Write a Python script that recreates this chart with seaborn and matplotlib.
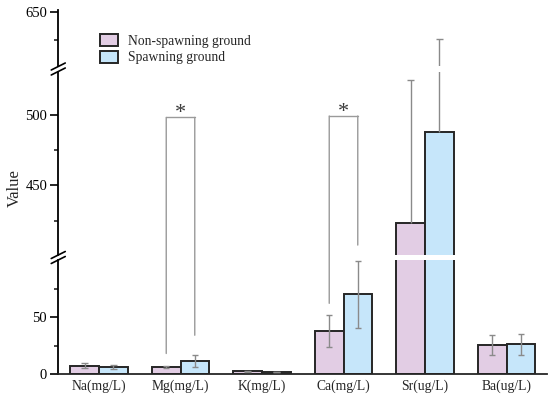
import matplotlib
matplotlib.use("Agg")
import matplotlib.pyplot as plt
from matplotlib.patches import ConnectionPatch
from matplotlib.lines import Line2D
import pandas as pd
import seaborn as sns

# ---- data ----
elements = ["Na(mg/L)", "Mg(mg/L)", "K(mg/L)", "Ca(mg/L)", "Sr(ug/L)", "Ba(ug/L)"]
groups = ["Non-spawning ground", "Spawning ground"]
non_spawning = [7.3, 6.0, 2.3, 38.0, 423.5, 25.5]
spawning = [6.2, 11.5, 1.8, 70.0, 488.0, 26.0]
# SD arms as drawn (Sr only shows the upper arm)
non_spawning_sd_low = [2.0, 0.6, 0.4, 14.0, 0.0, 9.0]
non_spawning_sd_high = [2.0, 0.6, 0.4, 14.0, 101.0, 9.0]
spawning_sd_low = [1.5, 5.5, 0.3, 29.5, 0.0, 9.5]
spawning_sd_high = [1.5, 5.5, 0.3, 29.5, 143.0, 9.5]

# significance brackets: element index, bracket height, leg ends (left / right)
sig_index = [1, 3]
sig_top = [498, 499]
sig_left_end = [18, 62]
sig_right_end = [34, 408]

PINK = "#E2CDE4"
BLUE = "#C6E6FA"
EDGE = "#262626"
ERR_COLOR = "#8a8a8a"
CAP = 0.04

df = pd.DataFrame({
    "element": elements * 2,
    "group": [groups[0]] * len(elements) + [groups[1]] * len(elements),
    "value": non_spawning + spawning,
})

sns.set_theme(style="ticks")
plt.rcParams["font.family"] = ["Liberation Serif", "DejaVu Serif"]
plt.rcParams["axes.linewidth"] = 1.3

W, H = 550, 397
fig = plt.figure(figsize=(W / 100, H / 100), dpi=100)

def px_axes(top_px, bottom_px):
    left, right = 58.25, 547.25
    return fig.add_axes([left / W, (H - bottom_px) / H,
                         (right - left) / W, (bottom_px - top_px) / H])

ax_top = px_axes(10, 66)
ax_mid = px_axes(72, 255)
ax_bot = px_axes(260, 374)
axes = [ax_top, ax_mid, ax_bot]
limits = [(612, 651.5), (401, 530), (0, 100)]
major = [[650], [450, 500], [0, 50]]
minor = [[630], [425, 475], [25, 75]]

for ax, lim, mj, mn in zip(axes, limits, major, minor):
    sns.barplot(data=df, x="element", y="value", hue="group",
                hue_order=groups, palette=[PINK, BLUE], width=0.7,
                edgecolor=EDGE, linewidth=1.4, errorbar=None,
                saturation=1, legend=(ax is ax_bot), ax=ax)
    ax.set_ylim(*lim)
    ax.set_xlim(-0.5, len(elements) - 0.5)
    ax.set_yticks(mj)
    ax.set_yticks(mn, minor=True)
    ax.set_xlabel("")
    ax.set_ylabel("")
    ax.tick_params(axis="y", which="major", length=6, width=1.2,
                   labelsize=10.5, pad=2, colors="black")
    ax.tick_params(axis="y", which="minor", length=3, width=1.2)
    for s in ["top", "right"]:
        ax.spines[s].set_visible(False)
    ax.spines["left"].set_color("black")
    ax.set_facecolor("none")
    if ax is not ax_bot:
        ax.spines["bottom"].set_visible(False)
        ax.tick_params(axis="x", bottom=False, labelbottom=False)

ax_bot.tick_params(axis="x", length=0, labelsize=9.8, pad=4)

# error bars
patches = ax_bot.patches
n = len(elements)
x_non = [p.get_x() + p.get_width() / 2 for p in patches[:n]]
x_spa = [p.get_x() + p.get_width() / 2 for p in patches[n:2 * n]]

def draw_sd(ax, xs, means, lows, highs):
    for x, m, lo, hi in zip(xs, means, lows, highs):
        ax.vlines(x, m - lo, m + hi, color=ERR_COLOR, lw=1, zorder=3)
        for end, arm in ((m - lo, lo), (m + hi, hi)):
            if arm > 0:
                ax.hlines(end, x - CAP, x + CAP, color=ERR_COLOR, lw=1, zorder=3)

for ax in axes:
    draw_sd(ax, x_non, non_spawning, non_spawning_sd_low, non_spawning_sd_high)
    draw_sd(ax, x_spa, spawning, spawning_sd_low, spawning_sd_high)

# significance brackets
def seg_axis(v):
    return ax_mid if v > 300 else ax_bot

BR_COLOR = "#9a9a9a"
for i, top, le, re in zip(sig_index, sig_top, sig_left_end, sig_right_end):
    xl, xr = x_non[i], x_spa[i]
    ax_mid.plot([xl, xr], [top, top], color=BR_COLOR, lw=1, zorder=4)
    for x, end in ((xl, le), (xr, re)):
        con = ConnectionPatch(xyA=(x, top), coordsA=ax_mid.transData,
                              xyB=(x, end), coordsB=seg_axis(end).transData,
                              color=BR_COLOR, lw=1, zorder=4)
        fig.add_artist(con)
    ax_mid.text((xl + xr) / 2, top - 4, "*", ha="center", va="bottom",
                fontsize=16, color="#3a3a3a")

# axis break marks on the y axis
for yc in (69, 257.5):
    for dy in (-2.5, 2.5):
        y = yc + dy
        fig.add_artist(Line2D([(58.25 - 7) / W, (58.25 + 7) / W],
                              [(H - (y + 3.5)) / H, (H - (y - 3.5)) / H],
                              color="black", lw=1.2))

# legend
handles, labels = ax_bot.get_legend_handles_labels()
ax_bot.get_legend().remove()
fig.legend(handles, labels, loc="upper left", bbox_to_anchor=(100 / W, 1 - 34 / H),
           frameon=False, fontsize=9.8, handlelength=1.3, handleheight=0.95,
           handletextpad=0.75, labelspacing=0.25, borderpad=0, borderaxespad=0)

fig.text(15 / W, 1 - 188 / H, "Value", rotation=90, ha="center", va="center",
         fontsize=12)

fig.savefig("out.png", dpi=100)
